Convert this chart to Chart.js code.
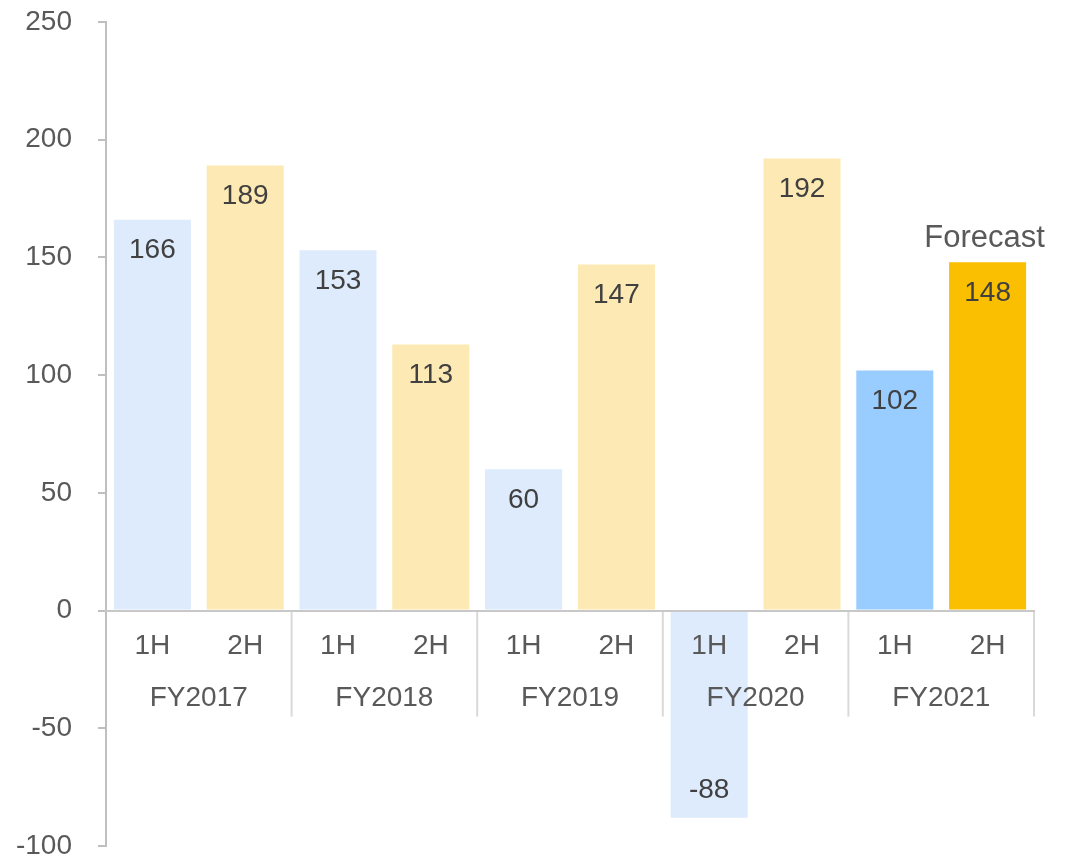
<!DOCTYPE html>
<html>
<head>
<meta charset="utf-8">
<script src="https://cdn.jsdelivr.net/npm/chart.js@4"></script>
<style>
  html, body { margin: 0; padding: 0; background: #ffffff; }
  #wrap { width: 1074px; height: 857px; }
</style>
</head>
<body>
<div id="wrap"><canvas id="halfChart"></canvas></div>
<script>
// Данные графика
var years = ['FY2017', 'FY2018', 'FY2019', 'FY2020', 'FY2021'];
var halves = ['1H', '2H', '1H', '2H', '1H', '2H', '1H', '2H', '1H', '2H'];
var values = [166, 189, 153, 113, 60, 147, -88, 192, 102, 148];
var yTicks = [-100, -50, 0, 50, 100, 150, 200, 250];
var forecastNote = 'Forecast';

// Цвета столбцов (последний год выделен ярче)
var barColors = ['#ddebfd', '#fde9b3', '#ddebfd', '#fde9b3', '#ddebfd',
                 '#fde9b3', '#ddebfd', '#fde9b3', '#99ccff', '#f9bf00'];

var fontFamily = '"Liberation Sans", Arial, sans-serif';

// Подписи значений, разделители и годы под осью
var extrasPlugin = {
  id: 'extras',
  afterDatasetsDraw: function(chart) {
    var ctx = chart.ctx;
    var xs = chart.scales.x;
    var ys = chart.scales.y;
    var meta = chart.getDatasetMeta(0);
    var zero = ys.getPixelForValue(0);

    ctx.save();
    ctx.font = '28px ' + fontFamily;
    ctx.textAlign = 'center';
    ctx.textBaseline = 'middle';
    ctx.fillStyle = '#404040';
    meta.data.forEach(function(bar, i) {
      var v = values[i];
      var y = v >= 0 ? bar.y + 31 : bar.y - 27;
      ctx.fillText(String(v), bar.x, y);
    });

    // Forecast над последним столбцом
    var last = meta.data[meta.data.length - 1];
    ctx.fillStyle = '#595959';
    ctx.font = '31px ' + fontFamily;
    ctx.fillText(forecastNote, last.x - 3, ys.getPixelForValue(values[values.length - 1]) - 24);

    // вертикальные разделители групп
    ctx.strokeStyle = '#d9d9d9';
    ctx.lineWidth = 2;
    for (var g = 1; g <= years.length; g++) {
      var idx = g * 2;
      var xPos;
      if (idx >= halves.length) {
        xPos = xs.right;
      } else {
        xPos = (xs.getPixelForValue(idx - 1) + xs.getPixelForValue(idx)) / 2;
      }
      ctx.beginPath();
      ctx.moveTo(xPos, zero);
      ctx.lineTo(xPos, zero + 106);
      ctx.stroke();
    }

    // подписи годов
    ctx.fillStyle = '#595959';
    ctx.font = '28px ' + fontFamily;
    years.forEach(function(yr, g) {
      var cx = (xs.getPixelForValue(g * 2) + xs.getPixelForValue(g * 2 + 1)) / 2;
      ctx.fillText(yr, cx, zero + 88);
    });
    ctx.restore();
  }
};

var ctx = document.getElementById('halfChart').getContext('2d');

var myBarChart = new Chart(ctx, {
  type: 'bar',
  data: {
    labels: halves,
    datasets: [{
      data: values,
      backgroundColor: barColors,
      borderWidth: 0,
      barPercentage: 0.83,
      categoryPercentage: 1.0
    }]
  },
  options: {
    responsive: true,
    maintainAspectRatio: false,
    animation: false,
    layout: { padding: { top: 22, right: 40, bottom: 11, left: 0 } },
    plugins: {
      legend: { display: false },
      tooltip: { enabled: false }
    },
    scales: {
      x: {
        type: 'category',
        position: { y: 0 },
        afterFit: function(scale) {
          scale.height = 0;
          scale.paddingLeft = 0;
          scale.paddingRight = 0;
        },
        grid: { display: false, drawTicks: false },
        border: { display: true, color: '#c8c8c8', width: 2, z: 1 },
        ticks: {
          color: '#595959',
          font: { family: fontFamily, size: 28 },
          padding: 19,
          maxRotation: 0,
          autoSkip: false,
          z: 1
        }
      },
      y: {
        min: -100,
        max: 250,
        afterFit: function(scale) {
          scale.width = 106;
          scale.paddingTop = 0;
          scale.paddingBottom = 0;
        },
        afterBuildTicks: function(scale) {
          scale.ticks = yTicks.map(function(v) { return { value: v }; });
        },
        grid: {
          drawOnChartArea: false,
          drawTicks: true,
          tickLength: 8,
          color: '#bfbfbf',
          lineWidth: 2
        },
        border: { display: true, color: '#bfbfbf', width: 2 },
        ticks: {
          color: '#595959',
          font: { family: fontFamily, size: 28 },
          padding: 26
        }
      }
    }
  },
  plugins: [extrasPlugin]
});
</script>
</body>
</html>
